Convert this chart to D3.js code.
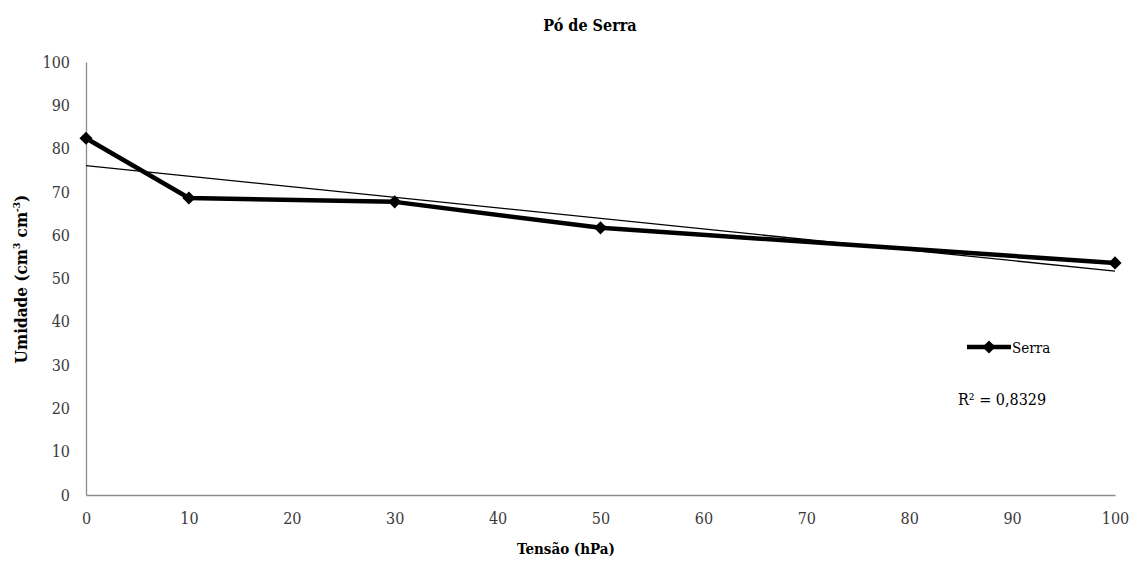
<!DOCTYPE html>
<html>
<head>
<meta charset="utf-8">
<script src="https://cdn.jsdelivr.net/npm/d3@7"></script>
<style>
  body { margin: 0; background: #fff; }
  svg text { font-family: "DejaVu Serif Condensed", "DejaVu Serif", serif; font-stretch: condensed; }
</style>
</head>
<body>
<div id="chart"></div>
<script>
// data
const tensao = [0, 10, 30, 50, 100];
const umidade = [82.4, 68.6, 67.7, 61.7, 53.6];
const xTicks = [0, 10, 20, 30, 40, 50, 60, 70, 80, 90, 100];
const yTicks = [0, 10, 20, 30, 40, 50, 60, 70, 80, 90, 100];
const r2Label = 'R² = 0,8329';

const width = 1143;
const height = 563;
const margin = { top: 62, right: 28, bottom: 68, left: 86 };

const svg = d3.select('#chart').append('svg')
  .attr('width', width)
  .attr('height', height);

const x = d3.scaleLinear().domain([0, 100]).range([margin.left, width - margin.right]);
const y = d3.scaleLinear().domain([0, 100]).range([height - margin.bottom, margin.top]);

// axes: just the gray lines, no tick marks
svg.append('g')
  .attr('transform', `translate(0,${y(0)})`)
  .call(d3.axisBottom(x).tickValues(xTicks).tickSize(0).tickPadding(18))
  .attr('font-family', null)
  .call(g => g.select('.domain').attr('stroke', '#8c8c8c').attr('stroke-width', 1.3))
  .call(g => g.selectAll('text').attr('font-size', 16).attr('fill', '#3a3a3a'));

svg.append('g')
  .attr('transform', `translate(${x(0)},0)`)
  .call(d3.axisLeft(y).tickValues(yTicks).tickSize(0).tickPadding(16))
  .attr('font-family', null)
  .call(g => g.select('.domain').attr('stroke', '#8c8c8c').attr('stroke-width', 1.3))
  .call(g => g.selectAll('text').attr('font-size', 16).attr('fill', '#3a3a3a'));

// linear trendline (least squares, as the spreadsheet draws it)
const pts = tensao.map((t, i) => ({ t, u: umidade[i] }));
const mx = d3.mean(tensao);
const my = d3.mean(umidade);
const slope = d3.sum(pts, d => (d.t - mx) * (d.u - my)) / d3.sum(pts, d => (d.t - mx) ** 2);
const intercept = my - slope * mx;
const xMax = d3.max(tensao);

svg.append('line')
  .attr('x1', x(0)).attr('y1', y(intercept))
  .attr('x2', x(xMax)).attr('y2', y(intercept + slope * xMax))
  .attr('stroke', '#000')
  .attr('stroke-width', 1.3);

// data line
const line = d3.line().x(d => x(d.t)).y(d => y(d.u));
svg.append('path')
  .datum(pts)
  .attr('d', line)
  .attr('fill', 'none')
  .attr('stroke', '#000')
  .attr('stroke-width', 4.5)
  .attr('stroke-linejoin', 'round');

const diamond = d3.symbol().type(d3.symbolDiamond2).size(110);
svg.selectAll('path.pt')
  .data(pts)
  .enter()
  .append('path')
    .attr('class', 'pt')
    .attr('d', diamond)
    .attr('transform', d => `translate(${x(d.t)},${y(d.u)})`)
    .attr('fill', '#000');

// title
svg.append('text')
  .attr('x', 590).attr('y', 31)
  .attr('text-anchor', 'middle')
  .attr('font-size', 16).attr('font-weight', 'bold')
  .text('Pó de Serra');

// axis titles
svg.append('text')
  .attr('x', 566).attr('y', 554)
  .attr('text-anchor', 'middle')
  .attr('font-size', 15).attr('font-weight', 'bold')
  .text('Tensão (hPa)');

const yTitle = svg.append('text')
  .attr('transform', 'translate(27,279) rotate(-90)')
  .attr('text-anchor', 'middle')
  .attr('font-size', 17).attr('font-weight', 'bold');
yTitle.append('tspan').text('Umidade (cm');
yTitle.append('tspan').attr('dy', -7).attr('font-size', 10).text('3');
yTitle.append('tspan').attr('dy', 7).text(' cm');
yTitle.append('tspan').attr('dy', -7).attr('font-size', 10).text('-3');
yTitle.append('tspan').attr('dy', 7).text(')');

// legend
const lg = svg.append('g').attr('transform', 'translate(967,347)');
lg.append('line')
  .attr('x1', 0).attr('x2', 44)
  .attr('stroke', '#000').attr('stroke-width', 4.5);
lg.append('path')
  .attr('d', diamond)
  .attr('transform', 'translate(22,0)');
lg.append('text')
  .attr('x', 45).attr('y', 6)
  .attr('font-size', 15)
  .text('Serra');

svg.append('text')
  .attr('x', 958).attr('y', 405)
  .attr('font-size', 16)
  .text(r2Label);
</script>
</body>
</html>
